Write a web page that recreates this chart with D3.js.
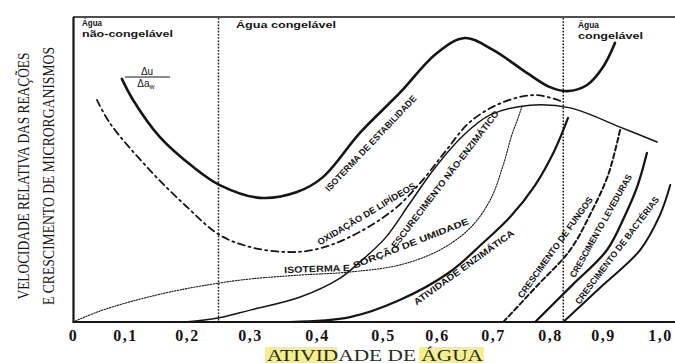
<!DOCTYPE html>
<html>
<head>
<meta charset="utf-8">
<script src="https://cdn.jsdelivr.net/npm/d3@7"></script>
<style>
  body { margin: 0; background: #fff; }
  svg { display: block; }
</style>
</head>
<body>
<svg id="chart" width="675" height="363"></svg>
<script>
// eixo x: atividade de água
const awTicks = [0, 0.1, 0.2, 0.3, 0.4, 0.5, 0.6, 0.7, 0.8, 0.9, 1.0];
const tickLabels = ["0", "0,1", "0,2", "0,3", "0,4", "0,5", "0,6", "0,7", "0,8", "0,9", "1,0"];
const zoneLimits = [0.25, 0.825];

// curvas: aw e velocidade relativa (0-100)
const estabAw = [0.094, 0.113, 0.156, 0.210, 0.252, 0.315, 0.370, 0.409, 0.465, 0.531, 0.600, 0.650, 0.700, 0.760, 0.800, 0.832, 0.870, 0.900, 0.921];
const estabV  = [79.7, 72.8, 60.7, 50.8, 44.9, 40.7, 42.6, 47.5, 62.0, 75.1, 88.2, 93.1, 89.2, 81.6, 77.0, 75.7, 77.7, 83.6, 91.5];

const oxidAw = [0.046, 0.071, 0.140, 0.200, 0.252, 0.300, 0.349, 0.394, 0.450, 0.519, 0.569, 0.614, 0.659, 0.718, 0.777, 0.825];
const oxidV  = [72.8, 65.2, 49.8, 37.7, 28.5, 24.6, 23.0, 23.6, 27.9, 36.7, 45.6, 55.7, 65.6, 72.1, 74.4, 72.1];

const escurAw = [0.197, 0.249, 0.300, 0.375, 0.435, 0.465, 0.504, 0.550, 0.596, 0.646, 0.695, 0.765, 0.838, 0.930, 0.995];
const escurV  = [0, 1.3, 3.9, 8.2, 14.4, 19.7, 27.5, 39.0, 50.5, 61.0, 67.9, 71.1, 70.2, 63.9, 59.0];

const sorcaoAw = [0, 0.052, 0.113, 0.181, 0.252, 0.300, 0.375, 0.450, 0.531, 0.605, 0.659, 0.695, 0.718, 0.733, 0.744, 0.751];
const sorcaoV  = [0, 3.6, 6.9, 10.2, 12.8, 14.1, 15.4, 16.4, 18.7, 23.6, 30.8, 40.0, 51.5, 61.3, 66.9, 70.8];

const enzAw = [0.360, 0.450, 0.531, 0.623, 0.682, 0.730, 0.774, 0.809, 0.834];
const enzV  = [0, 1.6, 7.2, 16.4, 25.9, 34.4, 44.9, 56.4, 66.9];

const fungosAw = [0.718, 0.777, 0.838, 0.877, 0.909, 0.930];
const fungosV  = [0, 11.8, 23.6, 35.7, 48.2, 63.0];

const levAw = [0.774, 0.842, 0.907, 0.939, 0.961, 0.977];
const levV  = [0, 12.1, 23.6, 35.1, 44.9, 55.4];

const bactAw = [0.825, 0.900, 0.965, 1.000, 1.018];
const bactV  = [0, 12.1, 23.6, 35.1, 44.9];

// rótulos ao longo das curvas: texto, aw/v inicial, aw/v final
const curveLabels = [
  ["ISOTERMA DE ESTABILIDADE", 0.415, 43.3, 0.559, 73.8],
  ["OXIDAÇÃO DE LIPÍDEOS", 0.402, 25.9, 0.559, 44.9],
  ["ESCURECIMENTO NÃO-ENZIMÁTICO", 0.519, 24.6, 0.707, 68.9],
  ["ISOTERMA E", 0.351, 17.0, 0.450, 17.7],
  ["SORÇÃO DE UMIDADE", 0.455, 18.4, 0.656, 33.1],
  ["ATIVIDADE ENZIMÁTICA", 0.559, 6.2, 0.735, 29.5],
  ["CRESCIMENTO DE FUNGOS", 0.747, 8.2, 0.877, 40.7],
  ["CRESCIMENTO LEVEDURAS", 0.842, 14.8, 0.947, 48.2],
  ["CRESCIMENTO DE BACTÉRIAS", 0.851, 6.2, 0.995, 40.7]
];

const svg = d3.select("#chart");
const ink = "#151515";

// the printed axis is not evenly spaced, so a polylinear scale
const x = d3.scaleLinear()
  .domain(awTicks)
  .range([73, 125, 187, 250, 317, 383, 437, 493, 550, 603, 660]);
const y = d3.scaleLinear().domain([0, 100]).range([322, 17]);

const line = d3.line()
  .x(d => x(d[0]))
  .y(d => y(d[1]))
  .curve(d3.curveCatmullRom.alpha(0.5));

const zip = (a, b) => a.map((v, i) => [v, b[i]]);

// frame
svg.append("line").attr("x1", 73.5).attr("x2", 73.5).attr("y1", 17).attr("y2", 323)
  .attr("stroke", ink).attr("stroke-width", 2.2);
svg.append("line").attr("x1", 73).attr("x2", 675).attr("y1", 17).attr("y2", 17)
  .attr("stroke", ink).attr("stroke-width", 1.6);
svg.append("line").attr("x1", 73).attr("x2", 675).attr("y1", 322).attr("y2", 322)
  .attr("stroke", ink).attr("stroke-width", 2.2);

// zone limits (dotted verticals)
svg.selectAll(".zone").data(zoneLimits).enter().append("line")
  .attr("class", "zone")
  .attr("x1", d => x(d)).attr("x2", d => x(d))
  .attr("y1", 18).attr("y2", 321)
  .attr("stroke", ink).attr("stroke-width", 1.5)
  .attr("stroke-dasharray", "1.6,1.6");

const series = [
  { pts: zip(estabAw, estabV), w: 2.6, dash: null },
  { pts: zip(oxidAw, oxidV), w: 1.8, dash: "7,4,2,4" },
  { pts: zip(escurAw, escurV), w: 1.5, dash: null },
  { pts: zip(sorcaoAw, sorcaoV), w: 1.1, dash: "1.4,1.4" },
  { pts: zip(enzAw, enzV), w: 2.2, dash: null },
  { pts: zip(fungosAw, fungosV), w: 2.0, dash: "5,3" },
  { pts: zip(levAw, levV), w: 2.3, dash: null },
  { pts: zip(bactAw, bactV), w: 2.0, dash: null }
];

svg.selectAll(".curve").data(series).enter().append("path")
  .attr("class", "curve")
  .attr("d", d => line(d.pts))
  .attr("fill", "none")
  .attr("stroke", ink)
  .attr("stroke-width", d => d.w)
  .attr("stroke-dasharray", d => d.dash)
  .attr("stroke-linecap", "round");

// curve labels
curveLabels.forEach(([txt, a0, v0, a1, v1]) => {
  const x0 = x(a0), y0 = y(v0), x1 = x(a1), y1 = y(v1);
  const ang = Math.atan2(y1 - y0, x1 - x0) * 180 / Math.PI;
  svg.append("text")
    .attr("transform", `translate(${x0},${y0}) rotate(${ang})`)
    .attr("dominant-baseline", "central")
    .attr("textLength", Math.hypot(x1 - x0, y1 - y0))
    .attr("lengthAdjust", "spacingAndGlyphs")
    .attr("font-family", "Liberation Sans, Arial, sans-serif")
    .attr("font-weight", "bold")
    .attr("font-size", 9)
    .attr("fill", ink)
    .text(txt);
});

// zone captions
const cap = (t, px, py, len) => svg.append("text")
  .attr("x", px).attr("y", py)
  .attr("textLength", len).attr("lengthAdjust", "spacingAndGlyphs")
  .attr("font-family", "Liberation Sans, Arial, sans-serif")
  .attr("font-weight", "bold").attr("font-size", 9)
  .attr("fill", ink).text(t);
cap("Água", 82, 26, 20);
cap("não-congelável", 82, 37, 91);
cap("Água congelável", 236, 28, 100);
cap("Água", 578, 28, 21);
cap("congelável", 578, 39, 65);

// Δu / Δaw
const frac = svg.append("g").attr("font-family", "Liberation Sans, Arial, sans-serif")
  .attr("font-size", 10).attr("fill", ink);
frac.append("text").attr("x", 147).attr("y", 75).attr("text-anchor", "middle").text("Δu");
frac.append("line").attr("x1", 125).attr("x2", 170).attr("y1", 77).attr("y2", 77)
  .attr("stroke", ink).attr("stroke-width", 1);
const den = frac.append("text").attr("x", 146).attr("y", 87).attr("text-anchor", "middle");
den.append("tspan").text("Δa");
den.append("tspan").attr("font-size", 7).attr("dy", 2).text("w");

// x axis tick labels
const xAxis = d3.axisBottom(x)
  .tickValues(awTicks)
  .tickFormat((d, i) => tickLabels[i])
  .tickSize(0)
  .tickPadding(8);
const gx = svg.append("g").attr("transform", "translate(0,322)").call(xAxis);
gx.select(".domain").remove();
gx.selectAll("text")
  .attr("font-family", "Liberation Serif, Times New Roman, serif")
  .attr("font-weight", "bold")
  .attr("font-size", 16)
  .attr("letter-spacing", 1.5)
  .attr("fill", ink);

// x title with highlight
svg.append("rect").attr("x", 265).attr("y", 347).attr("width", 72).attr("height", 16).attr("fill", "#f3ef8e");
svg.append("rect").attr("x", 419).attr("y", 347).attr("width", 65).attr("height", 16).attr("fill", "#f3ef8e");
svg.append("text")
  .attr("x", 267).attr("y", 361)
  .attr("textLength", 216).attr("lengthAdjust", "spacingAndGlyphs")
  .attr("font-family", "Liberation Serif, Times New Roman, serif")
  .attr("font-size", 16)
  .attr("fill", "#2a2a1c")
  .text("ATIVIDADE DE ÁGUA");

// y title
const yTitle = (t, bx, cy, len) => svg.append("text")
  .attr("transform", `translate(${bx},${cy}) rotate(-90)`)
  .attr("text-anchor", "middle")
  .attr("textLength", len).attr("lengthAdjust", "spacingAndGlyphs")
  .attr("font-family", "Liberation Serif, Times New Roman, serif")
  .attr("font-size", 17)
  .attr("fill", ink)
  .text(t);
yTitle("VELOCIDADE RELATIVA DAS REAÇÕES", 29, 176, 247);
yTitle("E CRESCIMENTO DE MICRORGANISMOS", 54, 176, 258);
</script>
</body>
</html>
